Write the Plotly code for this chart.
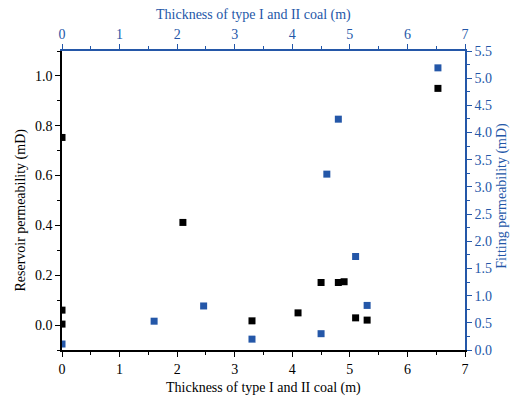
import plotly.graph_objects as go

# Reservoir permeability (left axis, black)
res_x = [0.0, 0.0, 0.0, 2.1, 3.3, 4.1, 4.5, 4.8, 4.9, 5.1, 5.3, 6.53]
res_y = [0.753, 0.06, 0.004, 0.412, 0.017, 0.049, 0.171, 0.171, 0.174, 0.029, 0.02, 0.95]

# Fitting permeability (right axis, blue)
fit_x = [0.0, 1.6, 2.46, 3.3, 4.5, 4.6, 4.8, 5.1, 5.3, 6.53]
fit_y = [0.11, 0.53, 0.81, 0.2, 0.3, 3.235, 4.246, 1.72, 0.82, 5.19]

x_title = "Thickness of type I and II coal (m)"
y_left_title = "Reservoir permeability (mD)"
y_right_title = "Fitting permeability (mD)"

BLUE = "#2457A8"
FONT = "Liberation Serif"

fig = go.Figure()
fig.add_trace(go.Scatter(x=res_x, y=res_y, mode="markers",
                         marker=dict(symbol="square", size=7, color="black"),
                         xaxis="x", yaxis="y", showlegend=False))
fig.add_trace(go.Scatter(x=fit_x, y=fit_y, mode="markers",
                         marker=dict(symbol="square", size=7, color=BLUE),
                         xaxis="x2", yaxis="y2", showlegend=False))

common = dict(showgrid=False, zeroline=False, ticks="outside", ticklen=5, tickwidth=1,
              showline=True, linewidth=1.5, mirror=False, automargin=False)

tf_black = dict(family=FONT, size=14, color="black")
tf_blue = dict(family=FONT, size=14, color=BLUE)

fig.update_layout(
    width=518, height=399,
    margin=dict(l=62, r=53, t=51, b=49),
    plot_bgcolor="white", paper_bgcolor="white",
    font=dict(family=FONT, size=14, color="black"),
    xaxis=dict(range=[0, 7], dtick=1, linecolor="black", tickcolor="black", tickfont=tf_black,
               minor=dict(ticks="outside", dtick=0.5, ticklen=3, tickcolor="black"),
               **common),
    yaxis=dict(range=[-0.1, 1.1], dtick=0.2, tickformat=".1f", linecolor="black", tickcolor="black",
               tickfont=tf_black,
               minor=dict(ticks="outside", dtick=0.1, ticklen=3, tickcolor="black"),
               **common),
    xaxis2=dict(range=[0, 7], dtick=1, overlaying="x", side="top", anchor="y2",
                linecolor=BLUE, tickcolor=BLUE, tickfont=tf_blue,
                minor=dict(ticks="outside", dtick=0.5, ticklen=3, tickcolor=BLUE),
                **common),
    yaxis2=dict(range=[0, 5.5], dtick=0.5, tickformat=".1f", overlaying="y", side="right", anchor="x2",
                linecolor=BLUE, tickcolor=BLUE, tickfont=tf_blue,
                minor=dict(ticks="outside", dtick=0.25, ticklen=3, tickcolor=BLUE),
                **common),
    annotations=[
        dict(text=x_title, xref="paper", yref="paper", x=0.501, y=-0.127, showarrow=False,
             xanchor="center", yanchor="middle", font=tf_black),
        dict(text=x_title, xref="paper", yref="paper", x=0.476, y=1.120, showarrow=False,
             xanchor="center", yanchor="middle", font=tf_blue),
        dict(text=y_left_title, xref="paper", yref="paper", x=-0.1005, y=0.468, showarrow=False,
             xanchor="center", yanchor="middle", textangle=-90, font=tf_black),
        dict(text=y_right_title, xref="paper", yref="paper", x=1.091, y=0.515, showarrow=False,
             xanchor="center", yanchor="middle", textangle=-90, font=tf_blue),
    ],
)

fig.write_html("out.html")
